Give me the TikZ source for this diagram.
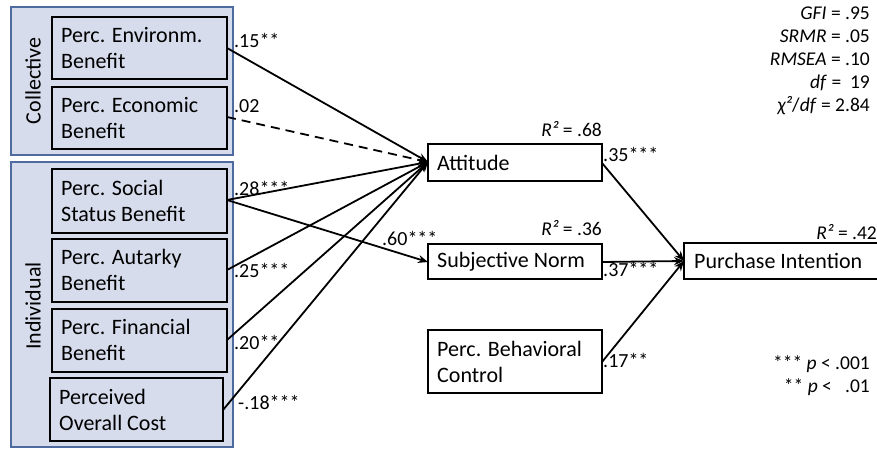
\documentclass[tikz,border=0pt]{standalone}
\usepackage{fontspec}
\setmainfont{Carlito}
\usetikzlibrary{arrows.meta}
\definecolor{boxfill}{HTML}{D6DCEC}
\definecolor{grpline}{HTML}{4F6A9E}
\begin{document}
\begin{tikzpicture}[x=1pt,y=-1pt,
  grp/.style={draw=grpline,line width=1.5pt,fill=boxfill},
  var/.style={draw=black,line width=2.2pt,fill=boxfill},
  wbox/.style={draw=black,line width=2.2pt,fill=white},
  txt/.style={font=\fontsize{22}{26}\selectfont,align=left,anchor=west,inner sep=0pt},
  lab/.style={font=\fontsize{20}{22}\selectfont,anchor=west,inner sep=0pt},
  rlab/.style={font=\fontsize{19.5}{23}\selectfont,anchor=east,inner sep=0pt,align=right},
  path/.style={line width=1.8pt,-{Stealth[length=10pt,width=8pt]}},
  ]
\useasboundingbox (0,0) rectangle (877,449);
% group boxes
\draw[grp] (11,7) rectangle (233,155);
\draw[grp] (11,162) rectangle (233,447);
\node[rotate=90,font=\fontsize{22}{26}\selectfont] (coll) at (33,81) {Collective};
\node[rotate=90,font=\fontsize{22}{26}\selectfont] (indiv) at (33,306) {Individual};
% predictor boxes
\draw[var] (52,17) rectangle (227,79);
\node[txt] (env) at (61,48) {Perc. Environm.\\Benefit};
\draw[var] (52,87) rectangle (227,149);
\node[txt] (eco) at (61,118) {Perc. Economic\\Benefit};
\draw[var] (52,169) rectangle (227,233);
\node[txt] (soc) at (61,201) {Perc. Social\\Status Benefit};
\draw[var] (52,239) rectangle (227,302);
\node[txt] (aut) at (61,270) {Perc. Autarky\\Benefit};
\draw[var] (52,309) rectangle (227,372);
\node[txt] (fin) at (61,340) {Perc. Financial\\Benefit};
\draw[var] (50,378) rectangle (223,441);
\node[txt] (cost) at (59,410) {Perceived\\Overall Cost};
\coordinate (envR) at (227,48);
\coordinate (ecoR) at (227,117);
\coordinate (socR) at (227,200);
\coordinate (autR) at (227,270);
\coordinate (finR) at (227,340);
\coordinate (costR) at (223,410);
% mediators
\draw[wbox] (428,144) rectangle (602,181);
\node[txt] (att) at (437,163) {Attitude};
\draw[wbox] (428,244) rectangle (602,279);
\node[txt] (sn) at (437,262) {Subjective Norm};
\draw[wbox] (428,330) rectangle (602,393);
\node[txt] (pbc) at (437,362) {Perc. Behavioral\\Control};
\draw[wbox] (684,243) rectangle (895,279);
\node[txt] (pi) at (694,261) {Purchase Intention};
\coordinate (attL) at (428,162);
\coordinate (attR) at (602,163);
\coordinate (snL) at (428,262);
\coordinate (snR) at (602,262);
\coordinate (pbcR) at (602,362);
\coordinate (piL) at (684,261);
% paths
\draw[path] (envR) -- (attL);
\draw[path,dashed,dash pattern=on 9pt off 6pt] (ecoR) -- (attL);
\draw[path] (socR) -- (attL);
\draw[path] (socR) -- (snL);
\draw[path] (autR) -- (attL);
\draw[path] (finR) -- (attL);
\draw[path] (costR) -- (attL);
\draw[path] (attR) -- (piL);
\draw[path] (snR) -- (piL);
\draw[path] (pbcR) -- (piL);
% path labels
\node[lab] (l1) at (234,40) {.15**};
\node[lab] (l2) at (234,106) {.02};
\node[lab] (l3) at (234,188) {.28***};
\node[lab] (l4) at (382,238) {.60***};
\node[lab] (l5) at (234,270) {.25***};
\node[lab] (l6) at (234,342) {.20**};
\node[lab] (l7) at (238,402) {-.18***};
\node[lab] (l8) at (603,154) {.35***};
\node[lab] (l9) at (603,269) {.37***};
\node[lab] (l10) at (603,360) {.17**};
% R squared
\node[rlab] (r1) at (602,129) {\textit{R²} = .68};
\node[rlab] (r2) at (602,228) {\textit{R²} = .36};
\node[rlab] (r3) at (877,232) {\textit{R²} = .42};
% fit
\node[rlab] (fit) at (870,61) {\textit{GFI} = .95\\\textit{SRMR} = .05\\\textit{RMSEA} = .10\\\textit{df} =~ 19\\\textit{χ²}/\textit{df} = 2.84};
\node[rlab] (sig) at (870,376) {*** \textit{p} < .001\\** \textit{p} <~~ .01};
\end{tikzpicture}
\end{document}
